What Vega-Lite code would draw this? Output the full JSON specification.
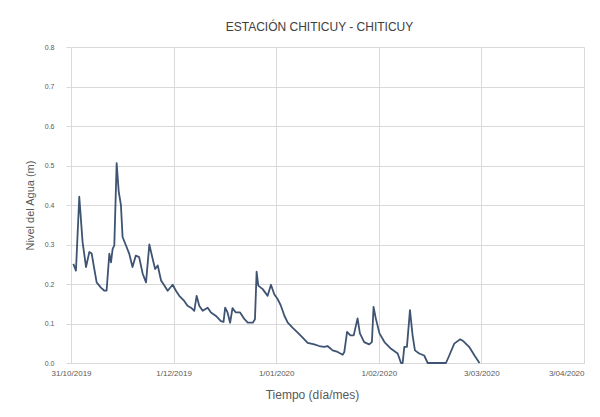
{
  "$schema": "https://vega.github.io/schema/vega-lite/v6.json",
  "autosize": {"type": "none"},
  "width": 513,
  "height": 316,
  "padding": {"left": 71, "top": 47, "right": 16, "bottom": 54},
  "background": "white",
  "title": {"text": "ESTACIÓN CHITICUY - CHITICUY", "fontSize": 12, "font": "Liberation Sans", "fontWeight": "normal", "color": "#404040", "anchor": "middle", "offset": 9, "dx": -8},
  "config": {"view": {"stroke": null}, "axis": {"labelFont": "Liberation Sans", "titleFont": "Liberation Sans", "labelColor": "#595959", "titleColor": "#595959", "gridColor": "#d9d9d9", "domainColor": "#d9d9d9", "tickColor": "#d9d9d9"}},
  "data": {"values": [
    {"fecha": "2019-10-31T17:00", "nivel": 0.251},
    {"fecha": "2019-11-01T12:00", "nivel": 0.234},
    {"fecha": "2019-11-02T12:00", "nivel": 0.421},
    {"fecha": "2019-11-03T12:00", "nivel": 0.306},
    {"fecha": "2019-11-04T13:00", "nivel": 0.243},
    {"fecha": "2019-11-05T13:00", "nivel": 0.281},
    {"fecha": "2019-11-06T06:00", "nivel": 0.277},
    {"fecha": "2019-11-07T01:00", "nivel": 0.238},
    {"fecha": "2019-11-07T18:00", "nivel": 0.204},
    {"fecha": "2019-11-09T01:00", "nivel": 0.191},
    {"fecha": "2019-11-10T02:00", "nivel": 0.183},
    {"fecha": "2019-11-10T18:00", "nivel": 0.183},
    {"fecha": "2019-11-11T14:00", "nivel": 0.277},
    {"fecha": "2019-11-12T02:00", "nivel": 0.255},
    {"fecha": "2019-11-12T14:00", "nivel": 0.289},
    {"fecha": "2019-11-13T02:00", "nivel": 0.298},
    {"fecha": "2019-11-13T19:00", "nivel": 0.506},
    {"fecha": "2019-11-14T10:00", "nivel": 0.434},
    {"fecha": "2019-11-15T02:00", "nivel": 0.400},
    {"fecha": "2019-11-15T14:00", "nivel": 0.319},
    {"fecha": "2019-11-16T14:00", "nivel": 0.298},
    {"fecha": "2019-11-17T14:00", "nivel": 0.277},
    {"fecha": "2019-11-18T14:00", "nivel": 0.243},
    {"fecha": "2019-11-19T14:00", "nivel": 0.272},
    {"fecha": "2019-11-20T14:00", "nivel": 0.268},
    {"fecha": "2019-11-21T16:00", "nivel": 0.226},
    {"fecha": "2019-11-22T16:00", "nivel": 0.204},
    {"fecha": "2019-11-23T16:00", "nivel": 0.300},
    {"fecha": "2019-11-24T16:00", "nivel": 0.264},
    {"fecha": "2019-11-25T10:00", "nivel": 0.238},
    {"fecha": "2019-11-26T05:00", "nivel": 0.247},
    {"fecha": "2019-11-27T05:00", "nivel": 0.209},
    {"fecha": "2019-11-28T05:00", "nivel": 0.196},
    {"fecha": "2019-11-29T05:00", "nivel": 0.183},
    {"fecha": "2019-11-30T17:00", "nivel": 0.198},
    {"fecha": "2019-12-01T17:00", "nivel": 0.183},
    {"fecha": "2019-12-02T17:00", "nivel": 0.170},
    {"fecha": "2019-12-04T05:00", "nivel": 0.157},
    {"fecha": "2019-12-05T05:00", "nivel": 0.145},
    {"fecha": "2019-12-06T06:00", "nivel": 0.140},
    {"fecha": "2019-12-07T06:00", "nivel": 0.132},
    {"fecha": "2019-12-07T23:00", "nivel": 0.170},
    {"fecha": "2019-12-08T18:00", "nivel": 0.145},
    {"fecha": "2019-12-09T19:00", "nivel": 0.132},
    {"fecha": "2019-12-11T07:00", "nivel": 0.140},
    {"fecha": "2019-12-12T07:00", "nivel": 0.128},
    {"fecha": "2019-12-13T19:00", "nivel": 0.119},
    {"fecha": "2019-12-15T07:00", "nivel": 0.106},
    {"fecha": "2019-12-16T02:00", "nivel": 0.104},
    {"fecha": "2019-12-16T14:00", "nivel": 0.140},
    {"fecha": "2019-12-17T07:00", "nivel": 0.128},
    {"fecha": "2019-12-18T02:00", "nivel": 0.102},
    {"fecha": "2019-12-18T19:00", "nivel": 0.139},
    {"fecha": "2019-12-19T19:00", "nivel": 0.128},
    {"fecha": "2019-12-21T02:00", "nivel": 0.128},
    {"fecha": "2019-12-22T10:00", "nivel": 0.111},
    {"fecha": "2019-12-23T10:00", "nivel": 0.102},
    {"fecha": "2019-12-24T22:00", "nivel": 0.102},
    {"fecha": "2019-12-25T14:00", "nivel": 0.111},
    {"fecha": "2019-12-26T02:00", "nivel": 0.231},
    {"fecha": "2019-12-26T14:00", "nivel": 0.196},
    {"fecha": "2019-12-27T22:00", "nivel": 0.187},
    {"fecha": "2019-12-29T10:00", "nivel": 0.170},
    {"fecha": "2019-12-30T10:00", "nivel": 0.198},
    {"fecha": "2019-12-31T10:00", "nivel": 0.174},
    {"fecha": "2020-01-01T10:00", "nivel": 0.162},
    {"fecha": "2020-01-02T10:00", "nivel": 0.145},
    {"fecha": "2020-01-03T12:00", "nivel": 0.119},
    {"fecha": "2020-01-04T12:00", "nivel": 0.102},
    {"fecha": "2020-01-06T00:00", "nivel": 0.089},
    {"fecha": "2020-01-07T12:00", "nivel": 0.077},
    {"fecha": "2020-01-09T00:00", "nivel": 0.064},
    {"fecha": "2020-01-10T12:00", "nivel": 0.051},
    {"fecha": "2020-01-12T12:00", "nivel": 0.047},
    {"fecha": "2020-01-14T00:00", "nivel": 0.043},
    {"fecha": "2020-01-15T12:00", "nivel": 0.041},
    {"fecha": "2020-01-16T12:00", "nivel": 0.043},
    {"fecha": "2020-01-18T01:00", "nivel": 0.032},
    {"fecha": "2020-01-19T14:00", "nivel": 0.028},
    {"fecha": "2020-01-21T02:00", "nivel": 0.021},
    {"fecha": "2020-01-21T14:00", "nivel": 0.028},
    {"fecha": "2020-01-22T10:00", "nivel": 0.079},
    {"fecha": "2020-01-23T10:00", "nivel": 0.070},
    {"fecha": "2020-01-24T10:00", "nivel": 0.070},
    {"fecha": "2020-01-25T14:00", "nivel": 0.113},
    {"fecha": "2020-01-26T07:00", "nivel": 0.075},
    {"fecha": "2020-01-27T14:00", "nivel": 0.053},
    {"fecha": "2020-01-29T02:00", "nivel": 0.047},
    {"fecha": "2020-01-29T22:00", "nivel": 0.053},
    {"fecha": "2020-01-30T10:00", "nivel": 0.142},
    {"fecha": "2020-01-31T02:00", "nivel": 0.113},
    {"fecha": "2020-02-01T05:00", "nivel": 0.075},
    {"fecha": "2020-02-02T17:00", "nivel": 0.053},
    {"fecha": "2020-02-04T17:00", "nivel": 0.036},
    {"fecha": "2020-02-06T17:00", "nivel": 0.024},
    {"fecha": "2020-02-07T17:00", "nivel": 0.000},
    {"fecha": "2020-02-08T05:00", "nivel": 0.000},
    {"fecha": "2020-02-08T17:00", "nivel": 0.041},
    {"fecha": "2020-02-09T12:00", "nivel": 0.041},
    {"fecha": "2020-02-10T10:00", "nivel": 0.134},
    {"fecha": "2020-02-11T05:00", "nivel": 0.070},
    {"fecha": "2020-02-11T22:00", "nivel": 0.032},
    {"fecha": "2020-02-13T05:00", "nivel": 0.024},
    {"fecha": "2020-02-14T17:00", "nivel": 0.019},
    {"fecha": "2020-02-15T19:00", "nivel": 0.000},
    {"fecha": "2020-02-16T19:00", "nivel": 0.000},
    {"fecha": "2020-02-21T07:00", "nivel": 0.000},
    {"fecha": "2020-02-22T07:00", "nivel": 0.019},
    {"fecha": "2020-02-23T19:00", "nivel": 0.049},
    {"fecha": "2020-02-25T14:00", "nivel": 0.060},
    {"fecha": "2020-02-26T14:00", "nivel": 0.055},
    {"fecha": "2020-02-28T07:00", "nivel": 0.041},
    {"fecha": "2020-02-29T22:00", "nivel": 0.019},
    {"fecha": "2020-03-02T10:00", "nivel": 0.000}
  ]},
  "mark": {"type": "line", "color": "#3f5373", "strokeWidth": 1.8, "strokeJoin": "round"},
  "encoding": {
    "x": {
      "field": "fecha", "type": "temporal",
      "scale": {"domain": [{"year": 2019, "month": 10, "date": 31}, {"year": 2020, "month": 4, "date": 3}]},
      "axis": {
        "title": "Tiempo (día/mes)", "titleFontSize": 12, "titleFontWeight": "normal", "titlePadding": 12, "titleX": 241,
        "format": "%-d/%m/%Y", "labelFontSize": 8, "labelPadding": 6, "tickSize": 0, "labelFlush": false,
        "labelAlign": {"condition": {"test": "datum.index === 1", "value": "right"}, "value": "center"},
        "values": [
          {"year": 2019, "month": 10, "date": 31},
          {"year": 2019, "month": 12, "date": 1},
          {"year": 2020, "month": 1, "date": 1},
          {"year": 2020, "month": 2, "date": 1},
          {"year": 2020, "month": 3, "date": 3},
          {"year": 2020, "month": 4, "date": 3}
        ]
      }
    },
    "y": {
      "field": "nivel", "type": "quantitative",
      "scale": {"domain": [0, 0.8], "nice": false},
      "axis": {
        "title": "Nivel del Agua (m)", "titleFontSize": 11, "titleFontWeight": "normal", "titlePadding": 9,
        "format": ".1f", "values": [0, 0.1, 0.2, 0.3, 0.4, 0.5, 0.6, 0.7, 0.8],
        "labelFontSize": 7, "tickSize": 5, "labelPadding": 12, "domain": false
      }
    }
  }
}
